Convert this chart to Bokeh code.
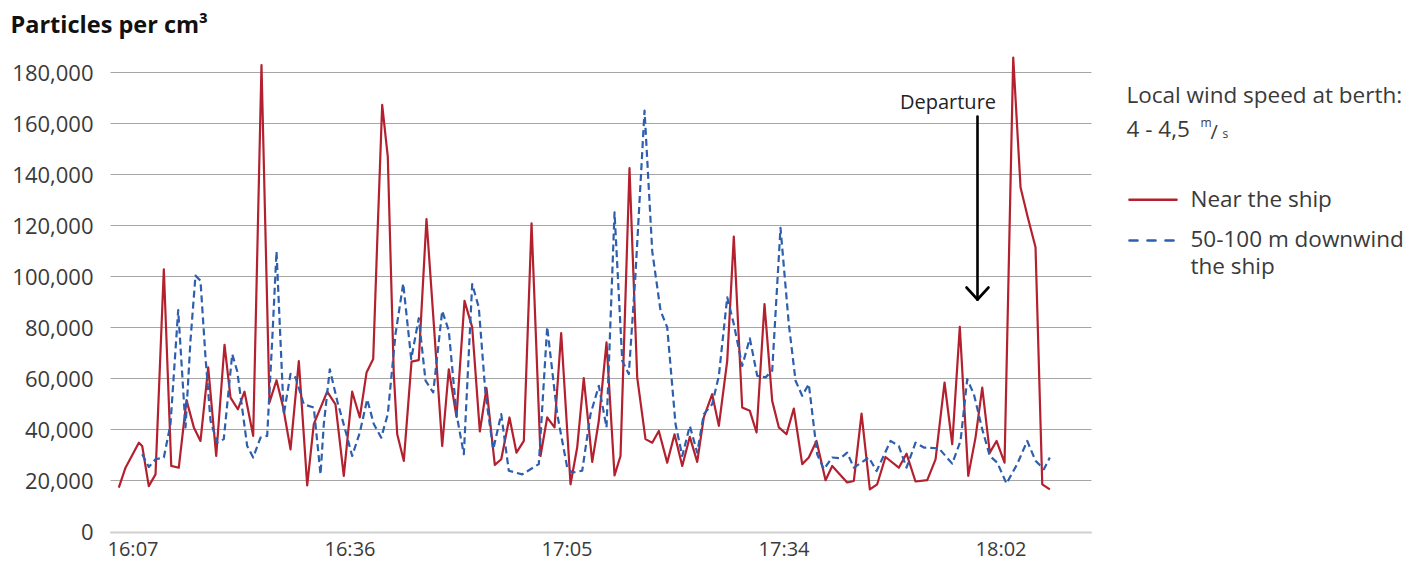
from bokeh.plotting import figure
from bokeh.models import Range1d, FixedTicker, Label, Arrow, NumeralTickFormatter
from bokeh.embed import file_html
from bokeh.resources import INLINE

# ---------------- data ----------------
tick_positions = [0, 29, 58, 87, 116]
tick_labels = ["16:07", "16:36", "17:05", "17:34", "18:02"]
y_ticks = [0, 20000, 40000, 60000, 80000, 100000, 120000, 140000, 160000, 180000]

near_t = [-1.90, -1.00, 0.78, 1.23, 2.11, 3.01, 4.12, 5.11, 6.12, 7.15, 8.13, 9.02, 10.05, 11.12,
          12.23, 13.03, 14.01, 14.90, 16.06, 17.17, 18.24, 19.18, 20.07, 21.05, 22.16, 23.28,
          24.16, 25.95, 27.06, 28.17, 29.29, 30.31, 31.21, 32.10, 32.64, 33.30, 34.05, 34.85,
          35.31, 36.19, 37.22, 38.19, 39.22, 40.20, 41.32, 42.20, 43.23, 44.30, 45.33, 46.35,
          47.24, 48.35, 49.21, 50.31, 51.25, 52.23, 53.26, 54.46, 55.35, 56.33, 57.22, 58.47,
          59.36, 60.24, 61.37, 62.25, 63.28, 64.35, 65.15, 66.35, 67.38, 68.49, 69.39, 70.27,
          71.39, 72.37, 73.40, 74.41, 75.40, 76.28, 77.40, 78.29, 79.41, 80.29, 81.41, 82.43,
          83.33, 84.39, 85.42, 86.31, 87.33, 88.31, 89.43, 90.31, 91.34, 92.55, 93.44, 95.44,
          96.33, 97.36, 98.47, 99.45, 100.56, 102.34, 103.37, 104.57, 106.14, 107.25, 108.45,
          109.48, 110.49, 111.62, 112.59, 113.49, 114.50, 115.40, 116.47, 117.63, 118.61,
          119.58, 120.61, 121.51, 122.52]
near_ship = [17400, 25200, 35000, 33700, 18000, 22600, 103000, 25900, 25200, 51700,
             41000, 35700, 64500, 29800, 73400, 52700, 48100, 55000, 37700, 183000,
             50800, 59500, 48800, 32400, 67000, 18300, 42300, 55000, 50000, 22000,
             55000, 44900, 62500, 67800, 114000, 167400, 147000, 62000, 38300, 27900,
             66800, 67400, 122700, 81500, 33700, 63800, 45100, 90600, 80200, 39400,
             56400, 26300, 28500, 44900, 31100, 35700, 121000, 29800, 44900, 41000,
             78000, 18700, 33100, 60300, 27500, 43600, 74300, 22200, 29800, 142600,
             60600, 36400, 35000, 39600, 27200, 38300, 25900, 37300, 27500, 44900,
             54000, 41600, 67100, 115800, 48800, 47500, 39000, 89300, 51400, 41000,
             38300, 48400, 26600, 29200, 35700, 20300, 25900, 19400, 20000, 46400,
             16700, 18700, 29400, 25200, 30700, 19800, 20300, 28500, 58600, 34400,
             80400, 22000, 37000, 56600, 31100, 35700, 27200, 186000, 135000, 123300,
             111600, 18700, 16700]

down_t = [1.23, 2.11, 3.01, 4.12, 5.01, 6.04, 7.02, 7.68, 8.35, 9.02, 9.69, 10.36, 11.25, 12.13,
          13.26, 13.93, 15.26, 16.06, 17.04, 17.93, 18.60, 19.18, 19.71, 20.15, 21.05, 21.72,
          22.83, 24.16, 25.06, 25.50, 26.30, 27.29, 28.40, 29.29, 30.31, 31.30, 32.18, 33.17,
          34.05, 35.08, 36.11, 37.18, 38.19, 39.09, 40.12, 41.32, 42.20, 43.23, 44.21, 45.33,
          46.21, 47.11, 48.14, 49.21, 50.22, 52.01, 54.23, 55.35, 56.69, 58.03, 58.70, 60.03,
          61.14, 62.25, 63.28, 64.35, 65.38, 66.26, 67.15, 68.36, 69.39, 70.50, 71.39, 72.50,
          73.40, 74.41, 75.40, 76.28, 77.40, 78.29, 79.41, 80.29, 81.41, 82.43, 83.42, 84.53,
          85.42, 86.53, 87.64, 88.54, 89.43, 90.31, 91.43, 92.32, 93.44, 94.55, 95.44, 96.33,
          98.34, 99.37, 101.24, 102.34, 103.37, 104.57, 105.69, 107.69, 109.48, 110.59,
          111.48, 112.37, 113.49, 114.50, 115.49, 116.73, 118.16, 119.50, 120.61, 121.73,
          122.52]
downwind = [30500, 25500, 28500, 29200, 42300, 87000, 41000, 75000, 100500, 98500,
            68400, 43600, 35000, 36400, 69700, 63000, 33700, 29200, 37000, 37700,
            75000, 110000, 75000, 46000, 62000, 60600, 50000, 48800, 22600, 42300,
            63800, 51400, 39600, 29800, 39000, 52000, 42300, 37000, 46200, 77600,
            97400, 67800, 83800, 59300, 54700, 86700, 78900, 46200, 30500, 97200,
            88000, 54000, 32400, 46200, 24000, 22600, 26600, 80400, 46200, 25200,
            23300, 24000, 46200, 57300, 41000, 125300, 67100, 61900, 101000, 165200,
            110000, 86700, 80200, 42300, 29800, 41600, 31100, 46200, 50100, 61200,
            92000, 81500, 65100, 75900, 61200, 60600, 63200, 119200, 81500, 59300,
            53400, 58000, 30500, 24600, 29200, 28900, 31100, 25200, 29200, 23900,
            35700, 33700, 25200, 35000, 33100, 32800, 26800, 35700, 59900, 54000,
            40300, 29800, 27200, 19000, 26600, 35700, 27900, 24600, 29200]

# ---------------- layout (canvas pixels) ----------------
W, H = 1409, 563
PLOT_L, PLOT_R = 110, 1091          # plot area left / right
ZERO_PY = 531.5                     # canvas y of value 0
PX_PER_UNIT = 459.2 / 180000.0      # vertical pixels per particle/cm3
X0, X1 = -3.007, 128.09             # data x at PLOT_L / PLOT_R
KX = (X1 - X0) / (PLOT_R - PLOT_L)


def X(px):
    return X0 + (px - PLOT_L) * KX


def Y(py):
    return (ZERO_PY - py) / PX_PER_UNIT


RED = "#B3212F"
BLUE = "#2D5FAE"
TXT = "#3A3A3A"
FONT = "Open Sans"

p = figure(width=W, height=H, output_backend="svg", toolbar_location=None,
           x_range=Range1d(X(0), X(W)), y_range=Range1d(Y(H), Y(0)),
           min_border=0, min_border_left=0, min_border_right=0,
           min_border_top=0, min_border_bottom=0)
p.outline_line_color = None
p.background_fill_color = "white"
p.border_fill_color = "white"

# x axis along value 0
xa = p.xaxis[0]
xa.fixed_location = 0
xa.bounds = (X0, X1)
xa.ticker = FixedTicker(ticks=tick_positions)
xa.major_label_overrides = {t: l for t, l in zip(tick_positions, tick_labels)}
xa.axis_line_color = "#CFCFCF"
xa.axis_line_width = 2
xa.major_tick_line_color = None
xa.minor_tick_line_color = None
xa.major_tick_out = 0
xa.major_tick_in = 0
xa.major_label_standoff = 3
xa.major_label_text_font = FONT
xa.major_label_text_font_size = "20px"
xa.major_label_text_color = TXT

# y axis at plot-area left
ya = p.yaxis[0]
ya.fixed_location = X0
ya.ticker = FixedTicker(ticks=y_ticks)
ya.formatter = NumeralTickFormatter(format="0,0")
ya.axis_line_color = None
ya.major_tick_line_color = None
ya.minor_tick_line_color = None
ya.major_tick_out = 0
ya.major_tick_in = 0
ya.major_label_standoff = 17
ya.major_label_text_font = FONT
ya.major_label_text_font_size = "22px"
ya.major_label_text_color = TXT

p.xgrid.visible = False
p.ygrid.ticker = FixedTicker(ticks=y_ticks)
p.ygrid.grid_line_color = "#A6A6A6"
p.ygrid.grid_line_width = 1
try:
    p.ygrid.cross_bounds = (X0, X1)
except Exception:
    p.ygrid.visible = False
    p.segment(x0=[X0] * len(y_ticks), y0=y_ticks, x1=[X1] * len(y_ticks), y1=y_ticks,
              line_color="#A6A6A6", line_width=1)

# series
p.line(near_t, near_ship, line_color=RED, line_width=2.2, line_join="round")
p.line(down_t, downwind, line_color=BLUE, line_width=2.2, line_dash="7 4", line_join="round")


def add_label(px, baseline_py, text, size=22, color=TXT, style="normal", align="left"):
    # anchor at the middle of the em box (Open Sans: ascent 1.069, descent 0.293)
    mid = baseline_py - 0.388 * size
    p.add_layout(Label(x=X(px), y=Y(mid), text=text, text_font=FONT,
                       text_font_size=f"{size}px", text_color=color,
                       text_font_style=style, text_align=align, text_baseline="middle"))


def add_seg(x0, y0, x1, y1, color, width, dash="solid"):
    p.add_layout(Arrow(end=None, x_start=X(x0), y_start=Y(y0), x_end=X(x1), y_end=Y(y1),
                       line_color=color, line_width=width, line_dash=dash, line_cap="round"))


# title
add_label(10, 32.7, "Particles per cm³", size=23.5, color="#111111", style="bold")

# departure annotation
add_label(947.5, 108.3, "Departure", size=20, color="#222222", align="center")
add_seg(977, 116, 977, 299, "black", 2.6)
add_seg(977, 299, 966, 287, "black", 2.6)
add_seg(977, 299, 988, 287, "black", 2.6)

# legend block
add_label(1126, 102.3, "Local wind speed at berth:", size=22.5)
add_label(1126, 136.7, "4 - 4,5", size=22.5)
add_label(1200, 127.0, "m", size=12)
add_label(1210, 138.5, "/", size=20)
add_label(1222, 138.0, "s", size=12)

add_seg(1129, 199.3, 1176, 199.3, RED, 2.6)
add_label(1190, 206.7, "Near the ship", size=22.5)
add_seg(1129, 240, 1177, 240, BLUE, 2.6, "8 10")
add_label(1190, 246.7, "50-100 m downwind", size=22.5)
add_label(1190, 274, "the ship", size=22.5)

open("out.html", "w").write(file_html(p, INLINE))
